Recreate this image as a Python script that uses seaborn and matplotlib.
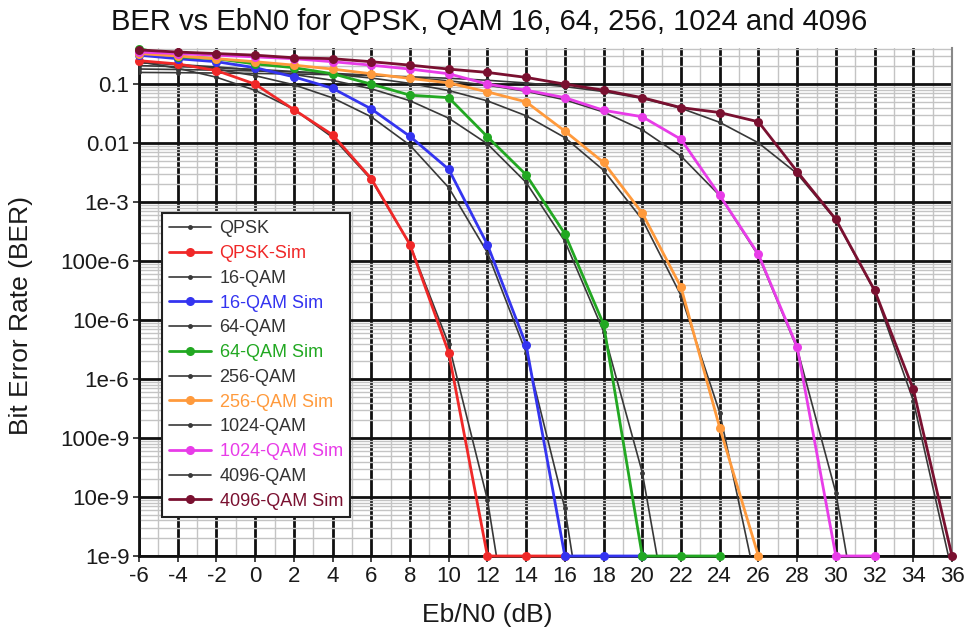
import numpy as np
import pandas as pd
import matplotlib
matplotlib.use("Agg")
import matplotlib.pyplot as plt
import matplotlib.ticker as mticker
import seaborn as sns

# ---------------- data ----------------
x_qpsk_th = [-6, -4, -2, 0, 2, 4, 6, 8, 10, 12, 14]
qpsk_th = [0.24, 0.186, 0.131, 0.0786, 0.0375, 0.0125, 0.0024, 1.9e-4, 3.9e-6, 9e-9, 7e-13]
x_qpsk_sim = [-6, -4, -2, 0, 2, 4, 6, 8, 10, 12, 14, 16]
qpsk_sim = [0.25, 0.22, 0.17, 0.1, 0.037, 0.0138, 0.0025, 1.9e-4, 2.8e-6, 1e-9, 1e-9, 1e-9]

x_16_th = [-6, -4, -2, 0, 2, 4, 6, 8, 10, 12, 14, 16, 18]
qam16_th = [0.245, 0.215, 0.179, 0.139, 0.0976, 0.0585, 0.0279, 0.0092, 0.00176, 1.39e-4, 2.8e-6, 6.4e-9, 4.5e-13]
x_16_sim = [-6, -4, -2, 0, 2, 4, 6, 8, 10, 12, 14, 16, 18, 20]
qam16_sim = [0.31, 0.27, 0.24, 0.19, 0.133, 0.085, 0.038, 0.013, 0.0036, 1.9e-4, 3.8e-6, 1e-9, 1e-9, 1e-9]

x_64_th = [-6, -4, -2, 0, 2, 4, 6, 8, 10, 12, 14, 16, 18, 20, 22]
qam64_th = [0.230, 0.215, 0.196, 0.173, 0.146, 0.116, 0.0834, 0.0523, 0.0265, 0.0097, 0.00215, 2.17e-4, 6.4e-6, 2.6e-8, 5e-12]
x_64_sim = [-6, -4, -2, 0, 2, 4, 6, 8, 10, 12, 14, 16, 18, 20, 22, 24]
qam64_sim = [0.40, 0.29, 0.27, 0.22, 0.19, 0.15, 0.10, 0.065, 0.059, 0.0128, 0.0029, 2.9e-4, 8.5e-6, 1e-9, 1e-9, 1e-9]

x_256_th = [-6, -4, -2, 0, 2, 4, 6, 8, 10, 12, 14, 16, 18, 20, 22, 24, 26]
qam256_th = [0.206, 0.198, 0.189, 0.178, 0.164, 0.147, 0.127, 0.103, 0.0778, 0.052, 0.0291, 0.0124, 0.00347, 5.05e-4, 2.6e-5, 2.7e-7, 2.2e-10]
x_256_sim = [-6, -4, -2, 0, 2, 4, 6, 8, 10, 12, 14, 16, 18, 20, 22, 24, 26]
qam256_sim = [0.33, 0.30, 0.27, 0.24, 0.21, 0.18, 0.15, 0.125, 0.105, 0.074, 0.05, 0.016, 0.0047, 6.5e-4, 3.6e-5, 1.5e-7, 1e-9]

x_1024_th = [-6, -4, -2, 0, 2, 4, 6, 8, 10, 12, 14, 16, 18, 20, 22, 24, 26, 28, 30, 32]
qam1024_th = [0.1805, 0.177, 0.1728, 0.1674, 0.1607, 0.1523, 0.1419, 0.1292, 0.1139, 0.096, 0.0757, 0.0542, 0.0337, 0.0168, 0.00602, 0.00129, 1.23e-4, 3.3e-6, 1.18e-8, 1.8e-12]
x_1024_sim = [-6, -4, -2, 0, 2, 4, 6, 8, 10, 12, 14, 16, 18, 20, 22, 24, 26, 28, 30, 32]
qam1024_sim = [0.35, 0.33, 0.31, 0.29, 0.27, 0.24, 0.21, 0.18, 0.15, 0.1, 0.079, 0.059, 0.036, 0.028, 0.0116, 0.0013, 1.3e-4, 3.5e-6, 1e-9, 1e-9]

x_4096_th = [-6, -4, -2, 0, 2, 4, 6, 8, 10, 12, 14, 16, 18, 20, 22, 24, 26, 28, 30, 32, 34, 36]
qam4096_th = [0.158, 0.1564, 0.1543, 0.1518, 0.1487, 0.1447, 0.140, 0.1335, 0.1258, 0.1163, 0.1047, 0.0909, 0.0749, 0.0572, 0.039, 0.0225, 0.0101, 0.00304, 4.96e-4, 3.1e-5, 4.3e-7, 5.4e-10]
x_4096_sim = [-6, -4, -2, 0, 2, 4, 6, 8, 10, 12, 14, 16, 18, 20, 22, 24, 26, 28, 30, 32, 34, 36]
qam4096_sim = [0.38, 0.35, 0.33, 0.31, 0.28, 0.27, 0.24, 0.21, 0.18, 0.158, 0.13, 0.10, 0.079, 0.059, 0.040, 0.033, 0.023, 0.0033, 5.1e-4, 3.2e-5, 6.7e-7, 1e-9]

x_ticks = list(range(-6, 37, 2))
y_ticks = [1e-9, 1e-8, 1e-7, 1e-6, 1e-5, 1e-4, 1e-3, 1e-2, 1e-1]
y_tick_labels = ["1e-9", "10e-9", "100e-9", "1e-6", "10e-6", "100e-6", "1e-3", "0.01", "0.1"]

series = [
    ("QPSK", x_qpsk_th, qpsk_th, False),
    ("QPSK-Sim", x_qpsk_sim, qpsk_sim, True),
    ("16-QAM", x_16_th, qam16_th, False),
    ("16-QAM Sim", x_16_sim, qam16_sim, True),
    ("64-QAM", x_64_th, qam64_th, False),
    ("64-QAM Sim", x_64_sim, qam64_sim, True),
    ("256-QAM", x_256_th, qam256_th, False),
    ("256-QAM Sim", x_256_sim, qam256_sim, True),
    ("1024-QAM", x_1024_th, qam1024_th, False),
    ("1024-QAM Sim", x_1024_sim, qam1024_sim, True),
    ("4096-QAM", x_4096_th, qam4096_th, False),
    ("4096-QAM Sim", x_4096_sim, qam4096_sim, True),
]
sim_colors = {
    "QPSK-Sim": "#f02828",
    "16-QAM Sim": "#3434f0",
    "64-QAM Sim": "#22a822",
    "256-QAM Sim": "#ff9a3c",
    "1024-QAM Sim": "#e83ce8",
    "4096-QAM Sim": "#7a1030",
}
theory_color = "#383838"

# ---------------- plot ----------------
sns.set_theme(style="white")
plt.rcParams["font.family"] = ["Liberation Sans", "DejaVu Sans"]

fig = plt.figure(figsize=(9.69, 6.34), dpi=100)
ax = fig.add_axes([139 / 969, 1 - 556 / 634, 813 / 969, 508 / 634])

for name, xs, ys, is_sim in series:
    df = pd.DataFrame({"EbN0": xs, "BER": ys})
    if is_sim:
        sns.lineplot(data=df, x="EbN0", y="BER", ax=ax, color=sim_colors[name],
                     lw=2.0, marker="o", markersize=6.5, markeredgewidth=0,
                     label=name, zorder=4, clip_on=False, sort=False)
    else:
        sns.lineplot(data=df, x="EbN0", y="BER", ax=ax, color=theory_color,
                     lw=1.2, marker="o", markersize=3.5, markeredgewidth=0,
                     label=name, zorder=3, sort=False)

ax.set_yscale("log")
ax.set_xlim(-6, 36)
ax.set_ylim(1e-9, 0.41)

ax.xaxis.set_major_locator(mticker.FixedLocator(x_ticks))
ax.xaxis.set_minor_locator(mticker.MultipleLocator(1))
ax.set_xticklabels([str(v) for v in x_ticks])
ax.yaxis.set_major_locator(mticker.FixedLocator(y_ticks))
ax.yaxis.set_major_formatter(mticker.FixedFormatter(y_tick_labels))
ax.yaxis.set_minor_locator(mticker.LogLocator(base=10, subs=np.arange(2, 10), numticks=30))
ax.yaxis.set_minor_formatter(mticker.NullFormatter())

ax.set_axisbelow(True)
ax.grid(which="minor", color="#c4c4c4", lw=1.0)
ax.grid(which="major", color="#111111", lw=2.0)

ax.tick_params(axis="both", which="major", labelsize=16, length=4, width=1.2,
               color="#222222", direction="out", pad=3, labelcolor="#1a1a1a")
ax.tick_params(axis="both", which="minor", length=0)
ax.tick_params(axis="x", which="major", bottom=True)
ax.tick_params(axis="y", which="major", left=True)

ax.spines["top"].set_visible(False)
ax.spines["right"].set_color("#888888")
ax.spines["right"].set_linewidth(1.5)
ax.spines["left"].set_color("#111111")
ax.spines["left"].set_linewidth(2)
ax.spines["bottom"].set_color("#111111")
ax.spines["bottom"].set_linewidth(2)

ax.set_xlabel("Eb/N0 (dB)", fontsize=19, color="#1a1a1a")
ax.set_ylabel("Bit Error Rate (BER)", fontsize=19, color="#1a1a1a")
ax.xaxis.set_label_coords((487 - 139) / 813, -0.092)
ax.yaxis.set_label_coords(-0.130, 0.474)

fig.text(0.505, 1 - 22 / 634, "BER vs EbN0 for QPSK, QAM 16, 64, 256, 1024 and 4096",
         ha="center", va="center", fontsize=21, color="#111111")

leg = ax.legend(loc="upper left", bbox_to_anchor=(0.028, 0.675), fontsize=13,
                frameon=True, fancybox=False, edgecolor="#222222", framealpha=1,
                handlelength=2.3, handletextpad=0.5, labelspacing=0.43,
                borderpad=0.4, borderaxespad=0)
leg.get_frame().set_linewidth(1.5)
for text, (name, xs, ys, is_sim) in zip(leg.get_texts(), series):
    text.set_color(sim_colors[name] if is_sim else "#333333")
leg.set_zorder(10)

fig.savefig("out.png", dpi=100)
